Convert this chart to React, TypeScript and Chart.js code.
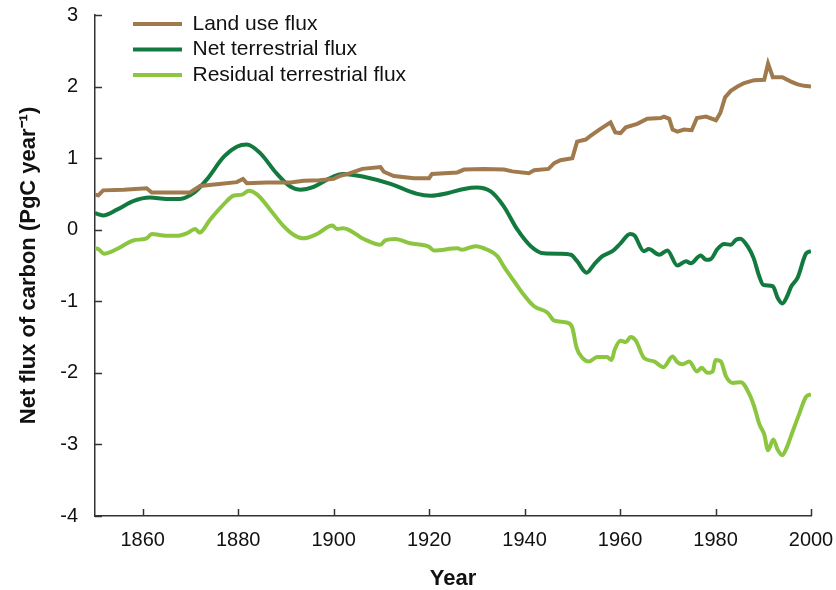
import { useEffect, useRef } from "react";
import { Chart, registerables } from "chart.js";

Chart.register(...registerables);

const FONT = "'Liberation Sans', Arial, Helvetica, sans-serif";

const SERIES_LABELS = ["Land use flux", "Net terrestrial flux", "Residual terrestrial flux"];
const SERIES_COLORS = ["#A07A4C", "#137A3F", "#8CC640"];

const LAND_YEARS = [1850, 1850.7, 1851.7, 1856, 1860.8, 1861.9, 1866, 1869.9, 1871.3, 1872, 1876, 1879.7, 1881, 1881.8, 1886, 1891, 1893.7, 1897, 1900, 1901.4, 1903, 1906, 1909.8, 1910.5, 1912.6, 1916.8, 1920, 1920.6, 1925.9, 1927.3, 1931.5, 1935.7, 1937.4, 1940.9, 1942, 1945, 1946.2, 1947.5, 1950, 1951, 1952.8, 1953.8, 1955.9, 1958, 1959, 1960.1, 1961.2, 1963.6, 1965.7, 1968.5, 1969.2, 1970.3, 1971, 1972, 1973.4, 1975, 1976.1, 1978, 1980.1, 1981, 1982, 1983.2, 1984.6, 1986, 1988.1, 1990.2, 1991, 1992, 1994, 1995.8, 1997.2, 1998.6, 2000];
const LAND_VALUES = [0.49, 0.48, 0.55, 0.56, 0.58, 0.52, 0.52, 0.52, 0.58, 0.61, 0.64, 0.665, 0.71, 0.65, 0.66, 0.66, 0.685, 0.69, 0.71, 0.755, 0.78, 0.85, 0.875, 0.81, 0.75, 0.72, 0.72, 0.78, 0.8, 0.84, 0.85, 0.84, 0.815, 0.79, 0.83, 0.85, 0.93, 0.97, 1.0, 1.23, 1.26, 1.31, 1.41, 1.5, 1.36, 1.35, 1.43, 1.48, 1.55, 1.56, 1.58, 1.55, 1.4, 1.37, 1.4, 1.39, 1.56, 1.58, 1.53, 1.63, 1.85, 1.94, 2.0, 2.05, 2.09, 2.095, 2.32, 2.13, 2.13, 2.07, 2.03, 2.01, 2.0];

const NET_YEARS = [1850, 1851.7, 1854.6, 1858, 1861.5, 1865, 1867.8, 1870.6, 1873.4, 1877, 1879.7, 1881.8, 1884.6, 1888, 1891, 1893, 1895.8, 1898.6, 1901, 1902, 1906.3, 1911.9, 1917.5, 1920.3, 1923.8, 1927.3, 1930, 1932.9, 1935.6, 1938.5, 1941.3, 1944, 1947.5, 1949.7, 1951, 1953, 1954.5, 1956.3, 1958.4, 1960.1, 1962.1, 1963, 1965, 1966, 1968.2, 1969.9, 1972, 1973.8, 1974.8, 1976.9, 1978, 1979, 1980.4, 1981.8, 1983.2, 1984.3, 1985.2, 1986.7, 1988, 1989.1, 1990, 1992, 1993, 1994, 1995, 1995.8, 1997.2, 1999, 2000];
const NET_VALUES = [0.23, 0.2, 0.28, 0.4, 0.45, 0.43, 0.43, 0.51, 0.7, 1.02, 1.16, 1.19, 1.07, 0.79, 0.6, 0.56, 0.6, 0.7, 0.77, 0.78, 0.74, 0.64, 0.5, 0.475, 0.51, 0.57, 0.59, 0.535, 0.33, 0.0, -0.23, -0.33, -0.335, -0.35, -0.44, -0.6, -0.49, -0.37, -0.3, -0.19, -0.06, -0.08, -0.3, -0.27, -0.35, -0.29, -0.5, -0.44, -0.47, -0.36, -0.42, -0.41, -0.27, -0.2, -0.21, -0.14, -0.125, -0.23, -0.4, -0.64, -0.77, -0.79, -0.95, -1.03, -0.93, -0.8, -0.67, -0.33, -0.3];

const RES_YEARS = [1850, 1850.7, 1851.9, 1854.6, 1858, 1860.8, 1861.9, 1864.3, 1867.1, 1869.2, 1871, 1871.9, 1874.1, 1876.9, 1879, 1880.8, 1882.2, 1884, 1886.7, 1889.5, 1891.6, 1893.7, 1896.5, 1899.7, 1900.7, 1902, 1906.3, 1909.8, 1910.8, 1912.9, 1916, 1920, 1921, 1925.9, 1926.9, 1929.7, 1932.2, 1934.3, 1935.7, 1937.8, 1939.5, 1942, 1944.8, 1946.2, 1949, 1950, 1950.9, 1952.1, 1953.5, 1955.2, 1957.3, 1958.2, 1958.9, 1960.1, 1961.2, 1962.2, 1963.3, 1965, 1967.1, 1969.1, 1971, 1972, 1973.1, 1974.5, 1976.1, 1977.1, 1978.3, 1979.4, 1980, 1981.1, 1982.2, 1983.6, 1985.3, 1987.1, 1988.1, 1989.2, 1990.2, 1991, 1992.1, 1993, 1994, 1995, 1996.1, 1997.5, 1999, 2000];
const RES_VALUES = [-0.26, -0.27, -0.335, -0.27, -0.15, -0.12, -0.06, -0.08, -0.085, -0.05, 0.01, -0.04, 0.14, 0.35, 0.475, 0.49, 0.545, 0.49, 0.28, 0.05, -0.07, -0.12, -0.06, 0.06, 0.01, 0.02, -0.13, -0.21, -0.15, -0.13, -0.19, -0.24, -0.29, -0.26, -0.28, -0.23, -0.28, -0.37, -0.52, -0.72, -0.88, -1.07, -1.16, -1.27, -1.3, -1.37, -1.65, -1.79, -1.84, -1.78, -1.78, -1.82, -1.67, -1.55, -1.57, -1.5, -1.55, -1.79, -1.84, -1.92, -1.77, -1.85, -1.88, -1.84, -1.98, -1.93, -2.0, -1.98, -1.82, -1.84, -2.05, -2.14, -2.13, -2.3, -2.47, -2.72, -2.86, -3.08, -2.93, -3.07, -3.15, -3.03, -2.83, -2.58, -2.33, -2.3];

const X_MIN = 1850;
const X_MAX = 2000;
const X_TICKS = [1860, 1880, 1900, 1920, 1940, 1960, 1980, 2000];
const Y_MIN = -4;
const Y_MAX = 3;
const Y_STEP = 1;

const X_TITLE = "Year";
const Y_TITLE = "Net flux of carbon (PgC year\u207B\u00B9)";

const toPoints = (xs: number[], ys: number[]) => xs.map((x, i) => ({ x, y: ys[i] }));

const innerTicks = {
  id: "innerTicks",
  afterDraw(chart: any) {
    const { ctx, chartArea, scales } = chart;
    const x = scales.x;
    const y = scales.y;
    ctx.save();
    ctx.strokeStyle = "#333";
    ctx.lineWidth = 1.5;
    x.ticks.forEach((t: any) => {
      const px = Math.round(x.getPixelForValue(t.value)) + 0.5;
      ctx.beginPath();
      ctx.moveTo(px, chartArea.bottom);
      ctx.lineTo(px, chartArea.bottom - 7);
      ctx.stroke();
    });
    y.ticks.forEach((t: any) => {
      const py = Math.round(y.getPixelForValue(t.value)) + 0.5;
      ctx.beginPath();
      ctx.moveTo(chartArea.left, py);
      ctx.lineTo(chartArea.left + 7, py);
      ctx.stroke();
    });
    ctx.restore();
  },
};

const legendPlacer = {
  id: "legendPlacer",
  afterLayout(chart: any) {
    const lg = chart.legend;
    if (!lg) return;
    const pad = lg.options.labels.padding;
    lg.left = chart.chartArea.left + 38 - pad;
    lg.top = 13.5 - pad;
    lg.width = 400;
    lg.height = 200;
    lg.right = lg.left + 400;
    lg.bottom = lg.top + 200;
  },
};

export default function App() {
  const ref = useRef<HTMLCanvasElement | null>(null);

  useEffect(() => {
    if (!ref.current) return;
    Chart.defaults.font.family = FONT;
    const chart = new Chart(ref.current, {
      type: "line",
      data: {
        datasets: [
          {
            label: SERIES_LABELS[0],
            data: toPoints(LAND_YEARS, LAND_VALUES),
            borderColor: SERIES_COLORS[0],
            backgroundColor: SERIES_COLORS[0],
            borderWidth: 4,
            pointRadius: 0,
            tension: 0,
          },
          {
            label: SERIES_LABELS[1],
            data: toPoints(NET_YEARS, NET_VALUES),
            borderColor: SERIES_COLORS[1],
            backgroundColor: SERIES_COLORS[1],
            borderWidth: 4,
            pointRadius: 0,
            cubicInterpolationMode: "monotone",
          },
          {
            label: SERIES_LABELS[2],
            data: toPoints(RES_YEARS, RES_VALUES),
            borderColor: SERIES_COLORS[2],
            backgroundColor: SERIES_COLORS[2],
            borderWidth: 4,
            pointRadius: 0,
            cubicInterpolationMode: "monotone",
          },
        ],
      },
      options: {
        animation: false,
        responsive: true,
        maintainAspectRatio: false,
        devicePixelRatio: 1,
        layout: { padding: { top: 15, right: 25, bottom: 0, left: 0 } },
        plugins: {
          tooltip: { enabled: false },
          legend: {
            position: "chartArea",
            align: "start",
            labels: {
              boxWidth: 49,
              boxHeight: 4,
              padding: 4.5,
              color: "#111",
              font: { size: 21, family: FONT },
              generateLabels: (c: any) =>
                Chart.defaults.plugins.legend.labels
                  .generateLabels(c)
                  .map((l: any) => ({ ...l, lineWidth: 0, strokeStyle: "rgba(0,0,0,0)" })),
            },
          },
        },
        scales: {
          x: {
            type: "linear",
            min: X_MIN,
            max: X_MAX,
            afterBuildTicks: (s: any) => {
              s.ticks = X_TICKS.map((v) => ({ value: v }));
            },
            afterFit: (s: any) => {
              s.height = 74;
              s.paddingLeft = 0;
              s.paddingRight = 0;
            },
            ticks: {
              color: "#111",
              font: { size: 20, family: FONT },
              padding: 12,
              maxRotation: 0,
              autoSkip: false,
              callback: (v: any) => String(v),
            },
            grid: { display: false, drawTicks: false },
            border: { display: true, color: "#333", width: 1.5 },
            title: {
              display: true,
              text: X_TITLE,
              color: "#111",
              font: { size: 22, weight: "bold", family: FONT },
              padding: { top: 0, bottom: -2 },
            },
          },
          y: {
            type: "linear",
            min: Y_MIN,
            max: Y_MAX,
            afterFit: (s: any) => {
              s.width = 95;
              s.paddingTop = 0;
              s.paddingBottom = 0;
            },
            ticks: {
              stepSize: Y_STEP,
              color: "#111",
              font: { size: 20, family: FONT },
              padding: 17,
            },
            grid: { display: false, drawTicks: false },
            border: { display: true, color: "#333", width: 1.5 },
            title: {
              display: true,
              text: Y_TITLE,
              color: "#111",
              font: { size: 22, weight: "bold", family: FONT },
              padding: { top: 16, bottom: 0 },
            },
          },
        },
      },
      plugins: [innerTicks, legendPlacer],
    } as any);
    return () => chart.destroy();
  }, []);

  return (
    <div style={{ position: "fixed", left: 0, top: 0, width: 836, height: 590, background: "#fff" }}>
      <canvas ref={ref} />
    </div>
  );
}
